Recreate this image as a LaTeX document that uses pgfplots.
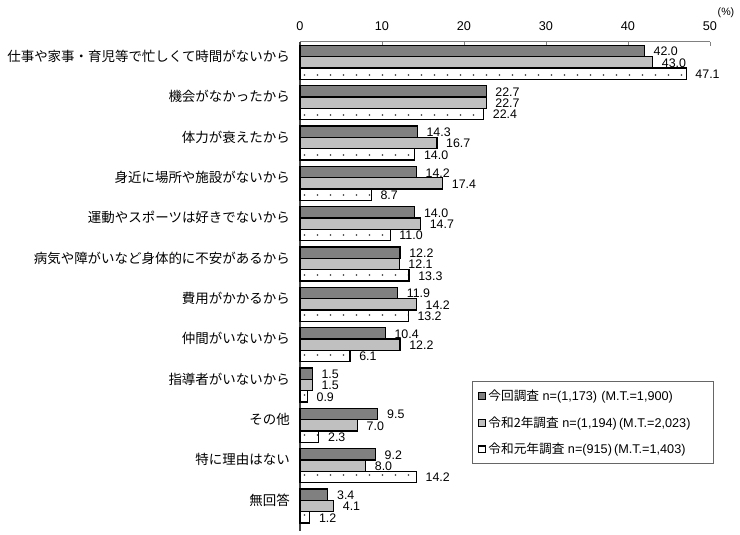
\documentclass[border=0pt]{standalone}
\usepackage{fontspec}
\setmainfont{Liberation Sans}
\newfontfamily\jp{Noto Sans CJK JP}
\usepackage{pgfplots}
\pgfplotsset{compat=1.18}
\usetikzlibrary{patterns.meta}
\definecolor{darkbar}{RGB}{128,128,128}
\definecolor{lightbar}{RGB}{192,192,192}

% sparse single-row dots, one row per category
\tikzdeclarepattern{
  name=sparsedots,
  type=uncolored,
  bottom left={(0pt,0pt)},
  top right={(9.75pt,30.25pt)},
  tile size={(9.75pt,30.25pt)},
  code={\pgfpathrectangle{\pgfpoint{4pt}{14.8pt}}{\pgfpoint{0.85pt}{0.85pt}}\pgfusepath{fill}}
}

\begin{document}
\begin{tikzpicture}
\begin{axis}[
    x=6.15pt, y=30.25pt,
    xmin=0, xmax=50, ymin=-0.62, ymax=11.51,
    axis x line*=top, axis y line*=left,
    x axis line style={draw=gray, line width=0.8pt},
    y axis line style={draw=black!75, line width=0.8pt},
    xtick={0,10,...,50},
    tick align=inside,
    major tick length=3pt,
    xtick style={draw=gray, line width=0.6pt},
    ytick={0,...,11},
    ytick style={draw=none},
    yticklabels={無回答, 特に理由はない, その他, 指導者がいないから, 仲間がいないから, 費用がかかるから, 病気や障がいなど身体的に不安があるから, 運動やスポーツは好きでないから, 身近に場所や施設がないから, 体力が衰えたから, 機会がなかったから, 仕事や家事・育児等で忙しくて時間がないから},
    yticklabel style={font={\jp\fontsize{10.1}{12}\selectfont}, inner sep=0pt, xshift=-7.5pt, yshift=4.5pt},
    xticklabel style={font=\fontsize{9.5}{11}\selectfont, yshift=5pt},
    /pgf/number format/assume math mode=true,
    clip=false,
    point meta=x,
    nodes near coords,
    every node near coord/.append style={font=\fontsize{9.3}{10}\selectfont, anchor=west, inner sep=1pt, xshift=5.5pt, yshift=-0.5pt,
        /pgf/number format/fixed, /pgf/number format/fixed zerofill, /pgf/number format/precision=1},
    legend style={at={(rel axis cs:0.4195,0.306)}, anchor=north west, draw=gray!80!black, line width=0.7pt,
        font=\fontsize{9.5}{11}\selectfont, row sep=6.5pt, inner xsep=4pt, inner ysep=4pt},
    legend cell align=left,
    legend image code/.code={\draw[#1, line width=0.8pt] (0pt,-2.6pt) rectangle (5.2pt,2.6pt);},
]
% each series sits at its own offset from the category position (k+0.28, k, k-0.28)
\addplot[xbar, bar width=0.28, bar shift=0, fill=darkbar, draw=black, line width=0.9pt] coordinates {
    (42.0,11.28) (22.7,10.28) (14.3,9.28) (14.2,8.28) (14.0,7.28) (12.2,6.28)
    (11.9,5.28) (10.4,4.28) (1.5,3.28) (9.5,2.28) (9.2,1.28) (3.4,0.28)};
\addlegendentry{{\jp 今回調査} n=(1,173)\,\,(M.T.=1,900)}
\addplot[xbar, bar width=0.28, bar shift=0, fill=lightbar, draw=black, line width=0.9pt] coordinates {
    (43.0,11) (22.7,10) (16.7,9) (17.4,8) (14.7,7) (12.1,6)
    (14.2,5) (12.2,4) (1.5,3) (7.0,2) (8.0,1) (4.1,0)};
\addlegendentry{{\jp 令和2年調査} n=(1,194)\,(M.T.=2,023)\hspace*{11pt}}
\addplot[xbar, bar width=0.28, bar shift=0, fill=white, draw=black, line width=0.9pt,
    postaction={pattern=sparsedots, pattern color=black}] coordinates {
    (47.1,10.72) (22.4,9.72) (14.0,8.72) (8.7,7.72) (11.0,6.72) (13.3,5.72)
    (13.2,4.72) (6.1,3.72) (0.9,2.72) (2.3,1.72) (14.2,0.72) (1.2,-0.28)};
\addlegendentry{{\jp 令和元年調査} n=(915)\,(M.T.=1,403)}
\node[font=\fontsize{8}{9}\selectfont] at (rel axis cs:1,1) [xshift=12pt, yshift=21.4pt] {(\%)};
\end{axis}
\pgfresetboundingbox
\path (current axis.south west) ++(-225pt,-3pt) rectangle ++(555pt,401.25pt);
\end{tikzpicture}
\end{document}
